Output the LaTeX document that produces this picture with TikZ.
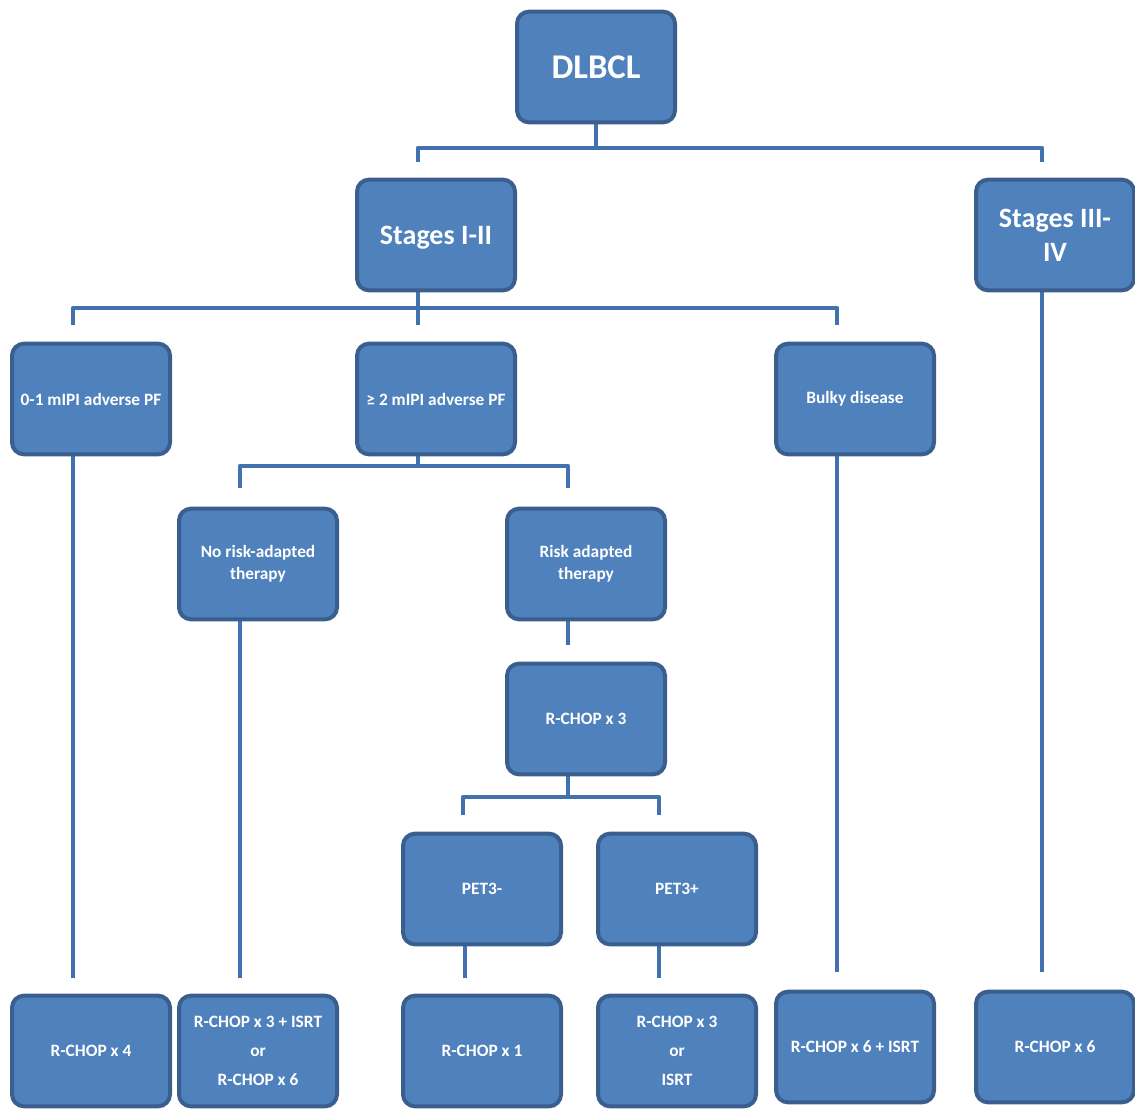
\documentclass[tikz,border=0pt]{standalone}
\usepackage{fontspec}
\setmainfont{Carlito}
\definecolor{boxfill}{HTML}{4F81BD}
\definecolor{boxline}{HTML}{3A5F8E}
\definecolor{connline}{HTML}{4171AE}
\tikzset{
  box/.style={draw=boxline, fill=boxfill, line width=3pt, rounded corners=9pt,
    minimum width=118.5pt, minimum height=83pt, text=white, align=center,
    font=\bfseries\fontsize{13}{21.75}\selectfont, inner sep=2pt},
  bigbox/.style={box, font=\bfseries\fontsize{21}{25.5}\selectfont},
  topbox/.style={box, font=\bfseries\fontsize{26}{30}\selectfont},
  midbox/.style={box, font=\bfseries\fontsize{13}{16.5}\selectfont},
  conn/.style={draw=connline, line width=3.6pt, line join=round, line cap=butt}
}
\begin{document}
\begin{tikzpicture}[x=0.75pt,y=-0.75pt]
\useasboundingbox (0,0) rectangle (1135,1110);
% junction and free-end coordinates
\coordinate (j1) at (596,148);
\coordinate (t1a) at (418,162);
\coordinate (t1b) at (1042,162);
\coordinate (s12o) at (418,290);
\coordinate (j2) at (418,308);
\coordinate (t2a) at (73,325);
\coordinate (t2b) at (418,325);
\coordinate (t2c) at (837,325);
\coordinate (m2o) at (418,455);
\coordinate (j3) at (418,466);
\coordinate (t3a) at (240,488);
\coordinate (t3b) at (568,488);
\coordinate (rao) at (568,620);
\coordinate (t4) at (568,645);
\coordinate (rc3o) at (568,775);
\coordinate (j5) at (568,797);
\coordinate (t5a) at (463,815);
\coordinate (t5b) at (659,815);
\coordinate (pmo) at (465,944);
\coordinate (ppo) at (659,944);
\coordinate (m01o) at (73,455);
\coordinate (nro) at (240,620);
\coordinate (bko) at (837,455);
\coordinate (s34o) at (1042,290);
\coordinate (e1) at (73,978);
\coordinate (e2) at (240,978);
\coordinate (e3) at (465,978);
\coordinate (e4) at (659,978);
\coordinate (e5) at (837,972);
\coordinate (e6) at (1042,972);
% connectors
\draw[conn] (596,122) -- (j1);
\draw[conn] (t1a) |- (j1) -| (t1b);
\draw[conn] (s12o) -- (t2b);
\draw[conn] (t2a) |- (j2) -| (t2c);
\draw[conn] (m2o) -- (j3);
\draw[conn] (t3a) |- (j3) -| (t3b);
\draw[conn] (rao) -- (t4);
\draw[conn] (rc3o) -- (j5);
\draw[conn] (t5a) |- (j5) -| (t5b);
\draw[conn] (pmo) -- (e3);
\draw[conn] (ppo) -- (e4);
\draw[conn] (m01o) -- (e1);
\draw[conn] (nro) -- (e2);
\draw[conn] (bko) -- (e5);
\draw[conn] (s34o) -- (e6);
% boxes
\node[topbox] (dlbcl) at (596,67) {DLBCL};
\node[bigbox, text depth=0pt] (s12) at (436,235) {Stages I-II};
\node[bigbox] (s34) at (1055,235) {Stages III-\\IV};
\node[box] (m01) at (91,399) {0-1 mIPI adverse PF};
\node[box] (m2) at (436,399) {≥ 2 mIPI adverse PF};
\node[box] (bulky) at (855,399) {Bulky disease};
\node[midbox] (norisk) at (258,564) {No risk-adapted\\therapy};
\node[midbox] (risk) at (586,564) {Risk adapted\\therapy};
\node[box] (rc3) at (586,719) {R-CHOP x 3};
\node[box] (petm) at (482,889) {PET3-};
\node[box] (petp) at (677,889) {PET3+};
\node[box] (b1) at (91,1051) {R-CHOP x 4};
\node[box] (b2) at (258,1051) {R-CHOP x 3 + ISRT\\or\\R-CHOP x 6};
\node[box] (b3) at (482,1051) {R-CHOP x 1};
\node[box] (b4) at (677,1051) {R-CHOP x 3\\or\\ISRT};
\node[box] (b5) at (855,1047) {R-CHOP x 6 + ISRT};
\node[box] (b6) at (1055,1047) {R-CHOP x 6};
\end{tikzpicture}
\end{document}
